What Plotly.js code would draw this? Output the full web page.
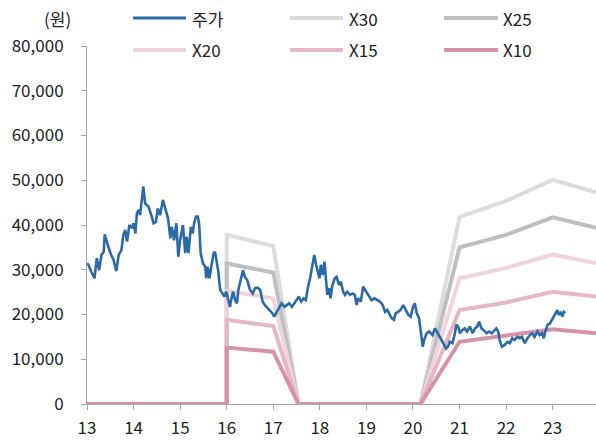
<!DOCTYPE html>
<html>
<head>
<meta charset="utf-8">
<script src="https://cdn.plot.ly/plotly-3.0.1.min.js"></script>
<style>html,body{margin:0;padding:0;background:#fff;}#chart{width:596px;height:440px;}</style>
</head>
<body>
<div id="chart"></div>
<script>
// Stock price (원) by year (decimal, 13 = 2013)
const priceYears = [13.00,13.03,13.09,13.12,13.16,13.21,13.26,13.31,13.36,13.38,13.43,13.48,13.52,13.57,13.63,13.68,13.74,13.78,13.82,13.86,13.91,13.97,14.00,14.04,14.07,14.11,14.14,14.18,14.21,14.25,14.32,14.38,14.43,14.48,14.52,14.57,14.63,14.68,14.74,14.79,14.82,14.87,14.92,14.96,15.00,15.06,15.11,15.14,15.18,15.23,15.27,15.30,15.34,15.38,15.41,15.44,15.49,15.54,15.56,15.59,15.63,15.68,15.72,15.75,15.79,15.82,15.86,15.92,15.95,15.99,16.04,16.07,16.11,16.14,16.18,16.22,16.25,16.30,16.35,16.39,16.44,16.50,16.56,16.61,16.66,16.72,16.77,16.82,16.88,16.93,16.98,17.02,17.07,17.12,17.18,17.24,17.29,17.34,17.40,17.45,17.50,17.55,17.60,17.65,17.70,17.74,17.79,17.84,17.88,17.92,17.95,17.99,18.02,18.06,18.10,18.13,18.16,18.20,18.23,18.27,18.32,18.36,18.41,18.45,18.50,18.54,18.59,18.65,18.70,18.75,18.79,18.82,18.88,18.93,18.99,19.04,19.11,19.17,19.23,19.29,19.35,19.40,19.45,19.49,19.54,19.59,19.63,19.68,19.73,19.79,19.85,19.90,19.95,20.00,20.04,20.08,20.13,20.17,20.21,20.24,20.29,20.35,20.42,20.47,20.58,20.65,20.71,20.75,20.79,20.85,20.90,20.93,20.97,21.01,21.06,21.11,21.16,21.22,21.28,21.33,21.38,21.42,21.47,21.52,21.58,21.63,21.69,21.73,21.79,21.83,21.86,21.91,21.97,22.03,22.08,22.13,22.18,22.24,22.29,22.34,22.40,22.46,22.51,22.56,22.61,22.67,22.72,22.77,22.81,22.84,22.89,22.94,22.98,23.03,23.06,23.10,23.13,23.17,23.21,23.24,23.27];
const priceValues = [31400,31100,29600,28800,28100,32600,29900,33300,34000,37900,35900,34400,33300,32200,29700,33300,34400,37800,38900,36300,40000,39300,40400,38100,42600,43400,42200,45200,48600,44800,44100,42200,40400,40700,43700,42200,45600,43700,41500,37000,39600,36600,40400,32900,36600,40000,33700,37400,33700,39600,38100,40400,41900,41900,40000,33700,31400,30700,28100,30700,28100,31400,33700,34000,31400,29600,25500,24400,24000,25100,23200,21700,24000,25100,23200,22500,25500,27700,29900,28400,27700,25500,24700,25900,26000,25500,22900,22100,21400,21000,20300,19500,20600,21400,22500,21700,22100,22500,21700,22500,23200,24000,22900,23600,23200,25900,28100,31100,33300,31100,29600,28100,31100,28800,31800,27300,24400,25900,23600,26600,28100,28400,26600,27300,25100,24400,25100,24400,24700,24400,22100,23600,22900,26200,25100,24400,23200,23600,23200,22900,22100,20600,21000,20300,19200,18800,20300,20600,21000,22100,21000,19900,19500,21700,22500,20300,19200,16500,12800,14300,15800,16200,15400,16900,15000,13600,12400,12800,13900,13600,15800,17700,17300,15800,16500,16900,16200,17300,15800,16900,17300,18400,16900,16500,15800,16200,15800,16200,16900,16200,14300,12800,13200,13900,13600,14700,14300,15000,14700,15000,13600,14700,15400,15800,15000,16200,15400,15800,14700,16200,17700,18000,18800,19500,20300,21000,19900,20600,19500,20600,20300];

// PER band lines
const bandYears = [13, 16, 16, 17, 17.54, 20.16, 21, 22, 23, 23.93];
const bandX30 = [0, 0, 37800, 35300, 0, 0, 41800, 45400, 50100, 47300];
const bandX25 = [0, 0, 31400, 29400, 0, 0, 35000, 37800, 41700, 39400];
const bandX20 = [0, 0, 25300, 23600, 0, 0, 28100, 30400, 33400, 31500];
const bandX15 = [0, 0, 18800, 17400, 0, 0, 21000, 22700, 25100, 24000];
const bandX10 = [0, 0, 12600, 11700, 0, 0, 13900, 15200, 16700, 15800];

const xTicks = [13, 14, 15, 16, 17, 18, 19, 20, 21, 22, 23];
const xTickLabels = ['13', '14', '15', '16', '17', '18', '19', '20', '21', '22', '23'];
const seriesNames = ['주가', 'X30', 'X25', 'X20', 'X15', 'X10'];
const seriesColors = ['#2b6aa6', '#dcdcdc', '#bfbfbf', '#f0d4dd', '#e5b7c5', '#d693a8'];

const FONT = '"Noto Sans CJK KR", "Noto Sans", sans-serif';
const bands = [bandX30, bandX25, bandX20, bandX15, bandX10];

const traces = bands.map((vals, i) => ({
  x: bandYears, y: vals, type: 'scatter', mode: 'lines',
  name: seriesNames[i + 1],
  line: {color: seriesColors[i + 1], width: 4},
  showlegend: false, hoverinfo: 'skip'
}));
traces.push({
  x: priceYears, y: priceValues, type: 'scatter', mode: 'lines',
  name: seriesNames[0],
  line: {color: seriesColors[0], width: 2.6},
  showlegend: false
});

// manual legend (3 columns x 2 rows)
const legendCols = [[0.0904, 0.1945, 0.2024], [0.3988, 0.503, 0.5108], [0.7014, 0.8075, 0.8134]];
const legendRows = [1.078, 0.989];
const shapes = [];
const annotations = [];
seriesNames.forEach((name, i) => {
  const c = legendCols[i % 3], r = legendRows[Math.floor(i / 3)];
  shapes.push({type: 'line', xref: 'paper', yref: 'paper', x0: c[0], x1: c[1], y0: r, y1: r,
    line: {color: seriesColors[i], width: i === 0 ? 3 : 4}});
  annotations.push({xref: 'paper', yref: 'paper', x: c[2], y: r, xanchor: 'left', yanchor: 'middle',
    text: name, showarrow: false, font: {family: FONT, size: 17, color: '#222'}});
});
annotations.push({xref: 'paper', yref: 'paper', x: -0.058, y: 1.078, xanchor: 'center', yanchor: 'middle',
  text: '(원)', showarrow: false, font: {family: FONT, size: 17, color: '#222'}});

const layout = {
  width: 596, height: 440,
  margin: {l: 87, r: 0, t: 46, b: 36, pad: 0},
  paper_bgcolor: '#fff', plot_bgcolor: '#fff',
  font: {family: FONT, size: 17, color: '#222'},
  showlegend: false,
  xaxis: {
    range: [13, 23.93], tickvals: xTicks, ticktext: xTickLabels,
    showgrid: false, zeroline: false, showline: true, linecolor: '#a6a6a6', linewidth: 1,
    ticks: 'outside', ticklen: 5, tickcolor: '#a6a6a6', ticklabelstandoff: 4,
    tickfont: {family: FONT, size: 17, color: '#222'}
  },
  yaxis: {
    range: [0, 80000], dtick: 10000, tickformat: ',d',
    showgrid: false, zeroline: false, showline: true, linecolor: '#a6a6a6', linewidth: 1,
    ticks: 'outside', ticklen: 5, tickcolor: '#a6a6a6', ticklabelstandoff: 14,
    tickfont: {family: FONT, size: 17, color: '#222'}
  },
  shapes: shapes,
  annotations: annotations
};

Plotly.newPlot('chart', traces, layout, {displayModeBar: false, staticPlot: true});
</script>
</body>
</html>
